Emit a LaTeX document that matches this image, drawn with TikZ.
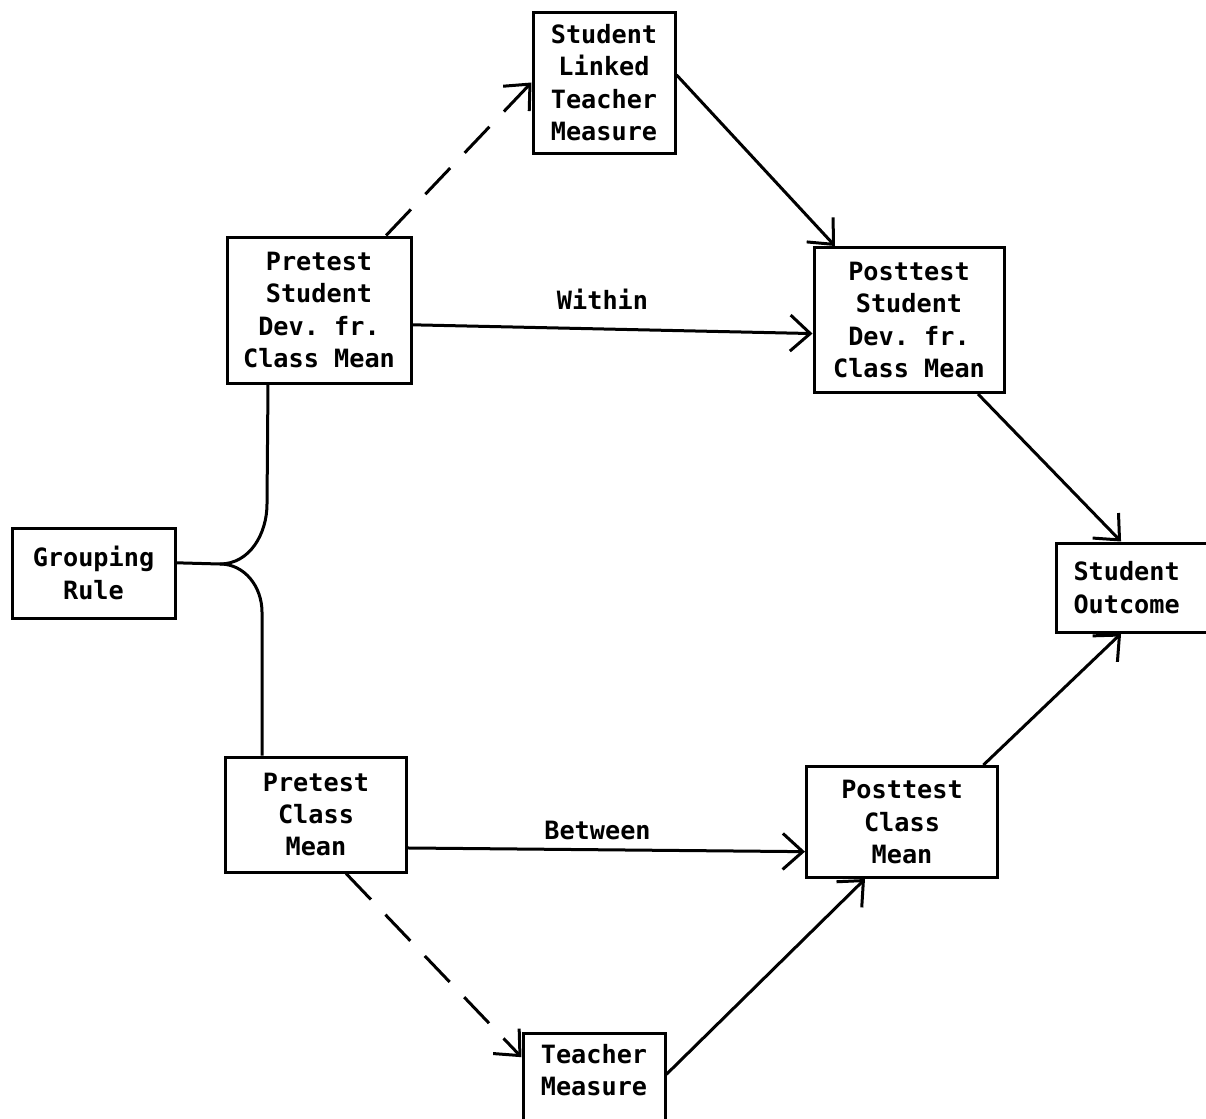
\documentclass[tikz,border=0pt]{standalone}
\usepackage{fontspec}
\setmonofont{DejaVu Sans Mono}
\usetikzlibrary{arrows.meta, positioning, calc}

\begin{document}
\begin{tikzpicture}[x=0.5pt, y=-0.5pt, line width=1.5pt,
    >={Straight Barb[length=10pt, width=18pt]},
    blk/.style={draw, align=center, inner sep=0pt, font=\ttfamily\bfseries\fontsize{12.6}{16.2}\selectfont},
    lbl/.style={font=\ttfamily\bfseries\fontsize{12.6}{16.2}\selectfont},
    dsh/.style={dash pattern=on 18pt off 10.5pt}]
    \useasboundingbox (0,0) rectangle (1206,1119);
    \node[blk, minimum width=71pt, minimum height=70.5pt] (slt) at (604,82.5) {Student\\Linked\\Teacher\\Measure};
    \node[blk, minimum width=92pt, minimum height=73pt] (pst) at (319,310) {Pretest\\Student\\Dev. fr.\\Class Mean};
    \node[blk, minimum width=95pt, minimum height=72.5pt] (pos) at (909,320) {Posttest\\Student\\Dev. fr.\\Class Mean};
    \node[blk, minimum width=81.5pt, minimum height=45pt] (grp) at (93.5,573) {Grouping\\Rule};
    \node[blk, anchor=west, text width=70pt, align=left, inner xsep=8.5pt, minimum height=44.5pt] (out) at (1055,587.5) {Student\\Outcome};
    \node[blk, minimum width=90.5pt, minimum height=57.5pt] (pcm) at (316,814.5) {Pretest\\Class\\Mean};
    \node[blk, minimum width=95.5pt, minimum height=55.5pt] (poc) at (902,822) {Posttest\\Class\\Mean};
    \node[blk, anchor=north, minimum width=71pt, minimum height=57.5pt] (tm) at (594,1032) {Teacher\\Measure\\\strut};
    \coordinate (fork) at (220,564);

    \draw[->, dsh] (pst.48) -- (slt.west);
    \draw[->] (slt.6) -- (pos.135);
    \draw[->] (pst.-9) -- node[lbl, midway, above=6pt, xshift=-5pt] {Within} (pos.188);
    \draw[->] (pos.-47) -- (out.116);
    \draw[->] (poc.35) -- (out.-116);
    \draw[->] (pcm.-20) -- node[lbl, midway, above=1pt, xshift=-4.5pt] {Between} (poc.197);
    \draw[->, dsh] (pcm.-63) -- (tm.155);
    \draw[->] (tm.13) -- (poc.-123);
    \draw (grp.7) -- (fork) to[out=0, in=-90] ++(47,-60) -- ([xshift=-25.5pt]pst.south);
    \draw (fork) to[out=0, in=90] ++(42,48) -- ([xshift=-27pt]pcm.north);
\end{tikzpicture}
\end{document}
